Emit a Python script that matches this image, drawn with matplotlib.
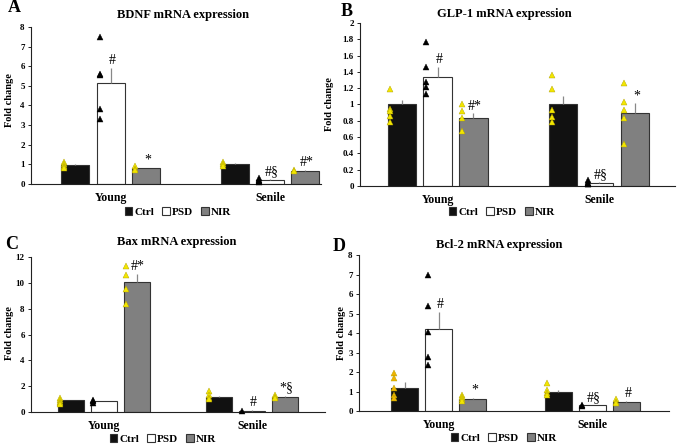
import matplotlib
matplotlib.use('Agg')
import matplotlib.pyplot as plt
from matplotlib.patches import Patch
import numpy as np

plt.rcParams['font.family'] = ['Liberation Serif', 'DejaVu Serif']

groups = ['Young', 'Senile']
conds = ['Ctrl', 'PSD', 'NIR']

# BDNF
bdnf_mean = {'Ctrl': [0.95, 1.0], 'PSD': [5.15, 0.22], 'NIR': [0.8, 0.67]}
bdnf_sem = {'Ctrl': [0.07, 0.05], 'PSD': [0.75, 0.04], 'NIR': [0.04, 0.03]}
bdnf_pts = {'Ctrl': [[1.1, 1.0, 0.9, 0.85, 0.8], [1.1, 1.0, 0.9]],
            'PSD': [[7.5, 5.6, 5.55, 3.8, 3.3], [0.3, 0.2, 0.15, 0.1]],
            'NIR': [[0.9, 0.75, 0.7], [0.7, 0.65]]}
bdnf_sig = {'PSD': ['#', '#§'], 'Ctrl': ['', ''], 'NIR': ['*', '#*']}

# GLP-1
glp_mean = {'Ctrl': [1.0, 1.0], 'PSD': [1.34, 0.04], 'NIR': [0.83, 0.9]}
glp_sem = {'Ctrl': [0.06, 0.11], 'PSD': [0.12, 0.01], 'NIR': [0.06, 0.12]}
glp_pts = {'Ctrl': [[1.19, 0.94, 0.92, 0.86, 0.78], [1.36, 1.19, 0.93, 0.85, 0.78]],
           'PSD': [[1.77, 1.46, 1.27, 1.21, 1.13], [0.07, 0.04, 0.03, 0.02]],
           'NIR': [[1.01, 0.92, 0.83, 0.67], [1.26, 1.03, 0.93, 0.84, 0.52]]}
glp_sig = {'Ctrl': ['', ''], 'PSD': ['#', '#§'], 'NIR': ['#*', '*']}

# Bax
bax_mean = {'Ctrl': [0.9, 1.2], 'PSD': [0.85, 0.1], 'NIR': [10.1, 1.2]}
bax_sem = {'Ctrl': [0.05, 0.06], 'PSD': [0.04, 0.02], 'NIR': [0.6, 0.05]}
bax_pts = {'Ctrl': [[1.1, 0.9, 0.8, 0.7, 0.6], [1.6, 1.3, 1.1, 1.0]],
           'PSD': [[0.95, 0.85, 0.7], [0.05]],
           'NIR': [[11.3, 10.6, 9.5, 8.4], [1.35, 1.2, 1.1]]}
bax_sig = {'Ctrl': ['', ''], 'PSD': ['', '#'], 'NIR': ['#*', '*§']}

# Bcl-2
bcl_mean = {'Ctrl': [1.2, 1.0], 'PSD': [4.2, 0.3], 'NIR': [0.63, 0.47]}
bcl_sem = {'Ctrl': [0.29, 0.1], 'PSD': [0.89, 0.02], 'NIR': [0.05, 0.03]}
bcl_pts = {'Ctrl': [[1.97, 1.67, 1.2, 0.8, 0.65], [1.45, 1.1, 0.9, 0.8]],
           'PSD': [[6.95, 5.4, 4.05, 2.75, 2.35], [0.3, 0.25]],
           'NIR': [[0.8, 0.7, 0.6, 0.5], [0.6, 0.45, 0.4]]}
bcl_sig = {'Ctrl': ['', ''], 'PSD': ['#', '#§'], 'NIR': ['*', '#']}

bar_face = {'Ctrl': '#111111', 'PSD': 'white', 'NIR': '#808080'}
pt_color = {'Ctrl': '#f2e600', 'PSD': 'black', 'NIR': '#f2e600'}
offs = {'Ctrl': -0.222, 'PSD': 0.0, 'NIR': 0.222}
bw = 0.175

fig = plt.figure(figsize=(6.77, 4.44), dpi=100)

W, H = 677.0, 444.0


def make_ax(l, r, t, b):
    return fig.add_axes([l / W, 1 - b / H, (r - l) / W, (b - t) / H])


def panel(ax, mean, sem, pts, sig, ymax, ystep, xlim, sig_dy, ctrl_young_col=None):
    x = np.arange(len(groups))
    for c in conds:
        xs = x + offs[c]
        ax.bar(xs, mean[c], bw, color=bar_face[c], edgecolor='#333333', linewidth=0.8,
               yerr=[np.zeros(2), sem[c]], error_kw=dict(ecolor='#888888', elinewidth=0.9, capsize=0),
               zorder=2)
        for gi in range(2):
            col = pt_color[c]
            if ctrl_young_col and c == 'Ctrl' and gi == 0:
                col = ctrl_young_col
            p = pts[c][gi]
            ax.plot([xs[gi] - 0.07] * len(p), p, '^', color=col, markersize=3.8,
                    markeredgewidth=0.3, markeredgecolor='#b0a000' if col != 'black' else 'black',
                    zorder=3, clip_on=False)
            if sig[c][gi]:
                ax.text(xs[gi] + 0.01, mean[c][gi] + sem[c][gi] + sig_dy, sig[c][gi],
                        ha='center', va='bottom', fontsize=10, zorder=4)
    ax.set_ylim(0, ymax)
    ax.set_xlim(*xlim)
    ax.set_yticks(np.arange(0, ymax + ystep / 2, ystep))
    ax.set_yticklabels(['%g' % v for v in np.arange(0, ymax + ystep / 2, ystep)],
                       fontsize=6.5, fontweight='bold')
    ax.set_xticks(x)
    ax.set_xticklabels(groups, fontsize=8.5, fontweight='bold')
    ax.tick_params(axis='x', length=0, pad=6)
    ax.tick_params(axis='y', length=2.5, width=0.6, pad=2, direction='out')
    for s in ['top', 'right']:
        ax.spines[s].set_visible(False)
    for s in ['left', 'bottom']:
        ax.spines[s].set_color('#222222')
        ax.spines[s].set_linewidth(0.8)
    handles = [Patch(facecolor=bar_face[c], edgecolor='#333333', linewidth=0.8, label=c) for c in conds]
    return handles


axA = make_ax(31, 321, 27, 184)
h = panel(axA, bdnf_mean, bdnf_sem, bdnf_pts, bdnf_sig, 8, 1, (-0.5, 1.32), 0.05)
axB = make_ax(360, 675, 23, 186)
panel(axB, glp_mean, glp_sem, glp_pts, glp_sig, 2, 0.2, (-0.48, 1.47), 0.01)
axC = make_ax(31, 325, 257, 412)
panel(axC, bax_mean, bax_sem, bax_pts, bax_sig, 12, 2, (-0.49, 1.49), 0.1)
axD = make_ax(359, 669, 255, 411)
panel(axD, bcl_mean, bcl_sem, bcl_pts, bcl_sig, 8, 1, (-0.52, 1.5), 0.05, ctrl_young_col='#f0b400')

titles = ['BDNF mRNA expression', 'GLP-1 mRNA expression', 'Bax mRNA expression', 'Bcl-2 mRNA expression']
title_xy = [(183, 15), (504, 14), (177, 242), (499, 245)]
letters = ['A', 'B', 'C', 'D']
letter_xy = [(14, 8), (347, 12), (12, 244), (339, 246)]
legend_xy = [(178, 212), (502, 212), (163, 439), (504, 438)]
ylab_xy = [(10, 100), (329, 104), (10, 333), (341, 333)]

for i in range(4):
    fig.text(title_xy[i][0] / W, 1 - title_xy[i][1] / H, titles[i], ha='center', va='center',
             fontsize=9, fontweight='bold')
    fig.text(letter_xy[i][0] / W, 1 - letter_xy[i][1] / H, letters[i], ha='center', va='center',
             fontsize=13, fontweight='bold')
    fig.text(ylab_xy[i][0] / W, 1 - ylab_xy[i][1] / H, 'Fold change', ha='center', va='center',
             rotation=90, fontsize=7.5, fontweight='bold')
    fig.legend(handles=h, loc='center', bbox_to_anchor=(legend_xy[i][0] / W, 1 - legend_xy[i][1] / H),
               ncol=3, frameon=False, handlelength=0.7, handleheight=0.7, handletextpad=0.2,
               columnspacing=0.7, borderpad=0, prop={'size': 8, 'weight': 'bold'})

fig.savefig('out.png', dpi=100)
